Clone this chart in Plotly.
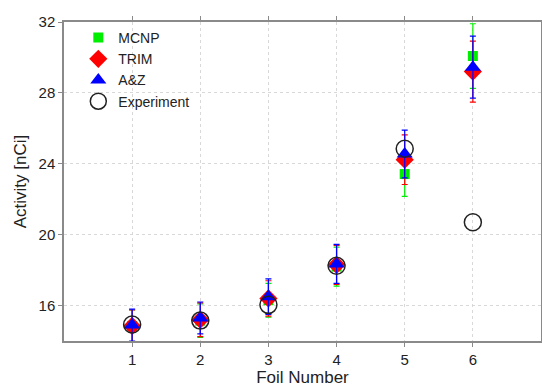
import plotly.graph_objects as go

foils = [1, 2, 3, 4, 5, 6]
mcnp = [14.85, 15.15, 16.3, 18.2, 23.42, 30.08]
mcnp_err = [0.9, 0.95, 0.95, 1.1, 1.26, 1.82]
trim = [14.85, 15.2, 16.4, 18.3, 24.23, 29.2]
trim_err = [0.9, 0.95, 1.0, 1.1, 1.4, 1.72]
az = [14.9, 15.3, 16.5, 18.35, 24.55, 29.45]
az_err = [0.9, 0.9, 1.0, 1.1, 1.35, 1.75]
experiment = [14.93, 15.15, 16.04, 18.25, 24.85, 20.7]

x_ticks = [1, 2, 3, 4, 5, 6]
y_ticks = [16, 20, 24, 28, 32]

FONT = "Liberation Sans, Arial, Helvetica, sans-serif"

fig = go.Figure()

def err(vals, color):
    return dict(type="data", array=vals, visible=True, color=color, thickness=1.2, width=3)

fig.add_trace(go.Scatter(x=foils, y=mcnp, mode="markers", name="MCNP",
                         marker=dict(symbol="square", size=10, color="#00ee00"),
                         error_y=err(mcnp_err, "#00ee00")))
fig.add_trace(go.Scatter(x=foils, y=trim, mode="markers", name="TRIM",
                         marker=dict(symbol="diamond", size=14, color="#ff0000"),
                         error_y=err(trim_err, "#ff0000")))
fig.add_trace(go.Scatter(x=foils, y=az, mode="markers", name="A&Z",
                         marker=dict(symbol="triangle-up", size=14, color="#0000ff"),
                         error_y=err(az_err, "#0000ff")))
fig.add_trace(go.Scatter(x=foils, y=experiment, mode="markers", name="Experiment",
                         marker=dict(symbol="circle-open", size=17, color="#222222",
                                     line=dict(width=1.5, color="#222222"))))

axis_common = dict(showline=True, linecolor="#8a8a8a", linewidth=1.5, mirror="ticks",
                   ticks="outside", ticklen=4, tickcolor="#8a8a8a", automargin=False,
                   showgrid=True, gridcolor="#d8d8d8", griddash="dot", gridwidth=1,
                   zeroline=False, tickfont=dict(family=FONT, size=15, color="#222"))

fig.update_xaxes(range=[0, 7], tickvals=x_ticks,
                 title=dict(text="Foil Number", font=dict(family=FONT, size=17, color="#222"), standoff=8),
                 **axis_common)
fig.update_yaxes(range=[14, 32], tickvals=y_ticks,
                 title=dict(text="Activity [nCi]", font=dict(family=FONT, size=17, color="#222"), standoff=8),
                 **axis_common)

fig.update_layout(width=542, height=387,
                  margin=dict(l=64, r=1, t=22, b=46, autoexpand=False),
                  paper_bgcolor="white", plot_bgcolor="white",
                  font=dict(family=FONT, size=14, color="#222"),
                  legend=dict(x=0.03, y=1.0, xanchor="left", yanchor="top",
                              bgcolor="rgba(255,255,255,0)", font=dict(family=FONT, size=14),
                              tracegroupgap=0, itemwidth=30))

fig.write_html("out.html", config={"displayModeBar": False},
               post_script="document.body.style.margin='0';document.body.style.overflow='hidden';")
